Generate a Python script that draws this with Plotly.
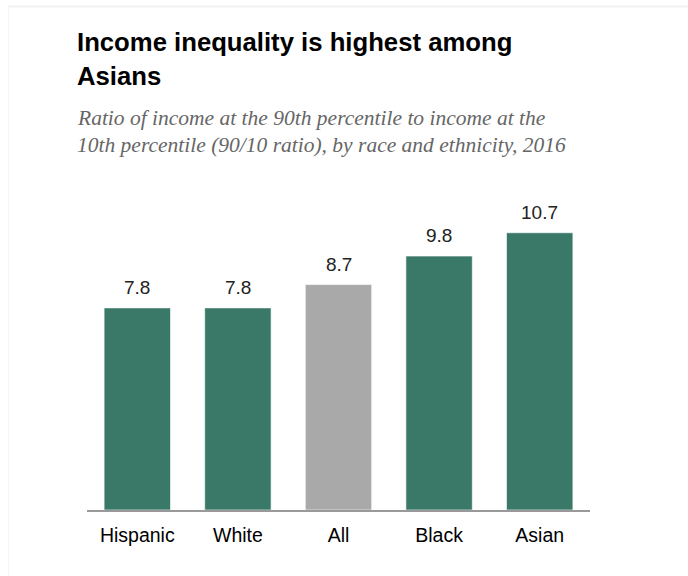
import plotly.graph_objects as go

categories = ["Hispanic", "White", "All", "Black", "Asian"]
values = [7.8, 7.8, 8.7, 9.8, 10.7]
value_labels = ["7.8", "7.8", "8.7", "9.8", "10.7"]
bar_colors = ["#3a7868", "#3a7868", "#a9a9a9", "#3a7868", "#3a7868"]

title_lines = ["Income inequality is highest among", "Asians"]
subtitle_lines = ["Ratio of income at the 90th percentile to income at the",
                  "10th percentile (90/10 ratio), by race and ethnicity, 2016"]

W, H = 688, 576
L, R, T, B = 87, 98, 190, 66
pw, ph = W - L - R, H - T - B


def px_x(px):
    return (px - L) / pw


def px_y(py):
    return (H - B - py) / ph


fig = go.Figure()
fig.add_trace(go.Bar(
    x=categories, y=values,
    marker=dict(color=bar_colors, line=dict(color="rgba(255,255,255,0.6)", width=1)),
    hoverinfo="skip",
))

for c, v, t in zip(categories, values, value_labels):
    fig.add_annotation(x=c, y=v, text=t, showarrow=False, yanchor="bottom",
                       yshift=8, font=dict(family="Liberation Sans", size=19, color="#222222"))

for i, line in enumerate(title_lines):
    fig.add_annotation(xref="paper", yref="paper", x=px_x(75), y=px_y(26 + 34 * i),
                       xanchor="left", yanchor="top", align="left", showarrow=False,
                       text=f"<b>{line}</b>",
                       font=dict(family="Liberation Sans", size=25.7, color="#000000"))
for i, line in enumerate(subtitle_lines):
    fig.add_annotation(xref="paper", yref="paper", x=px_x(75), y=px_y(104 + 26.5 * i),
                       xanchor="left", yanchor="top", align="left", showarrow=False,
                       text=f"<i>{line}</i>",
                       font=dict(family="Liberation Serif", size=21.5, color="#666666"))

# faint frame lines
fig.add_shape(type="line", xref="paper", yref="paper", x0=px_x(8), x1=px_x(688),
              y0=px_y(6.5), y1=px_y(6.5), line=dict(color="#f2f2f2", width=2))
fig.add_shape(type="line", xref="paper", yref="paper", x0=px_x(8.5), x1=px_x(8.5),
              y0=px_y(6), y1=px_y(576), line=dict(color="#f6f6f6", width=1))

fig.update_layout(
    width=W, height=H,
    margin=dict(l=L, r=R, t=T, b=B),
    paper_bgcolor="white", plot_bgcolor="white",
    showlegend=False,
    bargap=0.34,
    xaxis=dict(showline=True, linecolor="#999999", linewidth=1.5, ticks="",
               ticklabelstandoff=7,
               tickfont=dict(family="Liberation Sans", size=19.5, color="#000000"),
               showgrid=False, zeroline=False, fixedrange=True),
    yaxis=dict(range=[0, 12.35], visible=False, showgrid=False, zeroline=False, fixedrange=True),
)

fig.write_html("out.html")
